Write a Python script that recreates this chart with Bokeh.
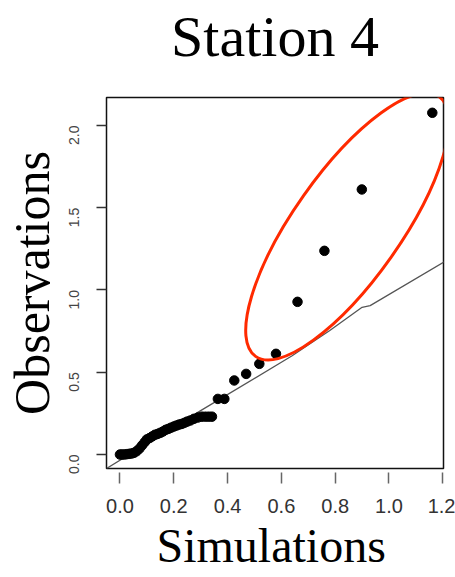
import math
from bokeh.plotting import figure
from bokeh.models import Range1d, FixedTicker, Title, LinearAxis
from bokeh.embed import file_html
from bokeh.resources import INLINE

# ---- data ----
simulations = [0.000, 0.008, 0.016, 0.025, 0.034, 0.043, 0.052, 0.062, 0.072, 0.082,
               0.092, 0.100, 0.110, 0.120, 0.130, 0.140, 0.150, 0.160, 0.170, 0.180,
               0.190, 0.200, 0.210, 0.220, 0.230, 0.240, 0.250, 0.262, 0.275, 0.290,
               0.305, 0.318, 0.330, 0.342, 0.364, 0.388, 0.425, 0.469, 0.518, 0.580,
               0.660, 0.760, 0.899, 1.161]
observations = [0.000, 0.000, 0.000, 0.002, 0.004, 0.006, 0.010, 0.020, 0.035, 0.055,
                0.075, 0.092, 0.100, 0.110, 0.120, 0.125, 0.132, 0.140, 0.150, 0.156,
                0.163, 0.170, 0.176, 0.182, 0.186, 0.193, 0.200, 0.207, 0.217, 0.225,
                0.230, 0.230, 0.230, 0.230, 0.338, 0.338, 0.450, 0.490, 0.551, 0.612,
                0.928, 1.238, 1.611, 2.077]

ref_line_x = [-0.05, 0.30, 0.64, 0.78, 0.90, 0.93, 1.21]
ref_line_y = [-0.085, 0.267, 0.60, 0.754, 0.895, 0.905, 1.175]

x_ticks = [0.0, 0.2, 0.4, 0.6, 0.8, 1.0, 1.2]
x_tick_labels = ["0.0", "0.2", "0.4", "0.6", "0.8", "1.0", "1.2"]
y_ticks = [0.0, 0.5, 1.0, 1.5, 2.0]
y_tick_labels = ["0.0", "0.5", "1.0", "1.5", "2.0"]

title_text = "Station 4"
x_title = "Simulations"
y_title = "Observations"

# highlighted region (ellipse around the upper points)
ell_center_x = [0.845]
ell_center_y = [1.386]
ell_width_px = [318]
ell_height_px = [107]
ell_angle = [0.956]

# ---- figure ----
p = figure(width=455, height=577, output_backend="svg", toolbar_location=None,
           x_range=Range1d(-0.050, 1.2026), y_range=Range1d(-0.085, 2.170),
           min_border_left=105, min_border_right=12, min_border_top=97, min_border_bottom=109)
p.background_fill_color = "white"
p.border_fill_color = "white"
p.xgrid.visible = False
p.ygrid.visible = False
p.outline_line_color = "#111111"
p.outline_line_width = 1.5

# x axis (bottom)
xa = p.below[0]
xa.ticker = FixedTicker(ticks=x_ticks)
xa.major_label_overrides = dict(zip(x_ticks, x_tick_labels))
xa.axis_line_color = None
xa.minor_tick_line_color = None
xa.major_tick_in = -4
xa.major_tick_out = 15
xa.major_tick_line_color = "#666666"
xa.major_tick_line_width = 1.5
xa.major_label_standoff = 15
xa.major_label_text_font = "Liberation Sans"
xa.major_label_text_font_size = "20px"
xa.major_label_text_color = "#333333"

p.add_layout(Title(text=x_title, align="left", offset=50, standoff=3,
                   text_font="Liberation Serif", text_font_size="48px",
                   text_font_style="normal", text_color="black"), "below")

# title, drawn as the label of a tick-less axis above the frame
top_axis = LinearAxis(ticker=FixedTicker(ticks=[]), axis_label=title_text,
                      axis_line_color=None, major_tick_out=0, major_tick_in=0,
                      minor_tick_out=0, minor_tick_in=0, major_label_standoff=0,
                      major_label_text_font_size="0px",
                      axis_label_standoff=29,
                      axis_label_text_font="Liberation Serif",
                      axis_label_text_font_size="58px",
                      axis_label_text_font_style="normal",
                      axis_label_text_color="black")
p.add_layout(top_axis, "above")

# y axis
ya = p.left[0]
ya.ticker = FixedTicker(ticks=y_ticks)
ya.major_label_overrides = dict(zip(y_ticks, y_tick_labels))
ya.axis_line_color = None
ya.minor_tick_line_color = None
ya.major_tick_in = 0
ya.major_tick_out = 10
ya.major_tick_line_color = "#333333"
ya.major_tick_line_width = 1.5
ya.major_label_orientation = math.pi / 2
ya.major_label_standoff = 22
ya.major_label_text_font = "Liberation Sans"
ya.major_label_text_font_size = "14px"
ya.major_label_text_color = "#444444"
ya.axis_label = y_title
ya.axis_label_standoff = 2
ya.axis_label_text_font = "Liberation Serif"
ya.axis_label_text_font_size = "50px"
ya.axis_label_text_font_style = "normal"
ya.axis_label_text_color = "black"

# reference line and points
p.line(ref_line_x, ref_line_y, line_color="#555555", line_width=1.3)
p.scatter(simulations, observations, size=9.5, fill_color="black", line_color="black")

# red ellipse highlight
p.ellipse(x=ell_center_x, y=ell_center_y, width=ell_width_px, height=ell_height_px,
          angle=ell_angle, width_units="screen", height_units="screen",
          fill_color=None, line_color="#ff2a00", line_width=3)

open("out.html", "w").write(file_html(p, INLINE))
